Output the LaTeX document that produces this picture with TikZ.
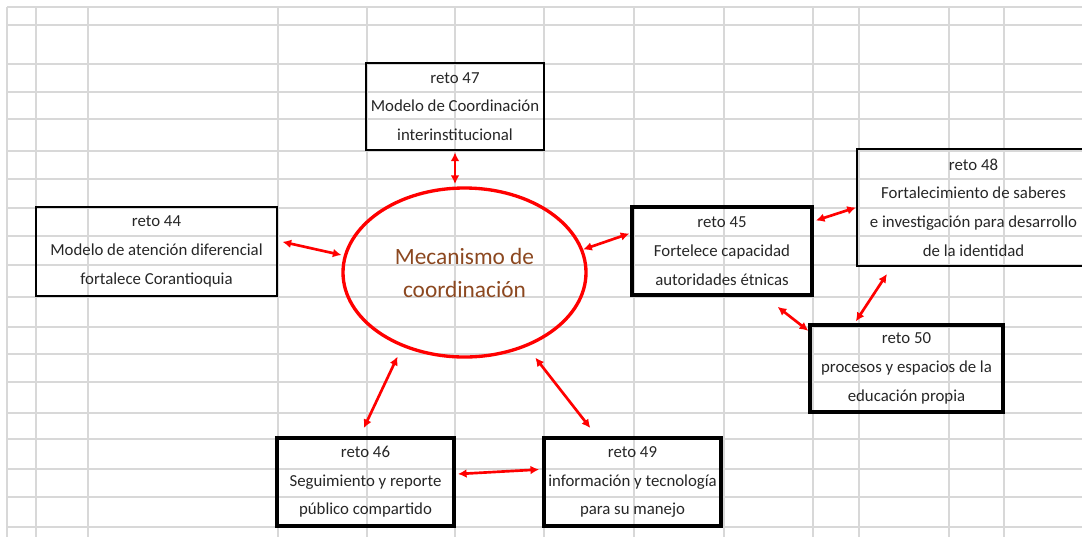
\documentclass[tikz,border=0pt]{standalone}
\usepackage{fontspec}
\setmainfont{Carlito}
\usetikzlibrary{shapes.geometric,arrows.meta}

\definecolor{gridgray}{RGB}{216,216,216}
\definecolor{mecbrown}{RGB}{140,72,32}

\tikzset{every picture/.style={line width=0.75pt}}
\tikzset{
  reto/.style={draw=black, line width=1.6pt, inner sep=2pt, align=center, text=black!85, font=\fontsize{12.6}{21.5}\selectfont},
  retothick/.style={reto, line width=2.5pt},
  link/.style={draw=red, line width=2pt, {Latex[length=6.5pt,width=6.5pt]}-{Latex[length=6.5pt,width=6.5pt]}},
}

\begin{document}
\begin{tikzpicture}[x=0.75pt,y=0.75pt,yscale=-1,xscale=1]
    \useasboundingbox (0,0) rectangle (1082,537);

    %Shape: Grid (sheet cells)
    \draw [color=gridgray, line width=1.2pt] (7,7) -- (7,537) (36,7) -- (36,537) (88,7) -- (88,537) (278,7) -- (278,537) (367,7) -- (367,537) (455,7) -- (455,537) (544,7) -- (544,537) (634,7) -- (634,537) (724,7) -- (724,537) (813,7) -- (813,537) (859,7) -- (859,537) (949,7) -- (949,537) (1004,7) -- (1004,537)
    (7,7) -- (1082,7) (7,25) -- (1082,25) (7,64) -- (1082,64) (7,92) -- (1082,92) (7,119) -- (1082,119) (7,151) -- (1082,151) (7,179) -- (1082,179) (7,208) -- (1082,208) (7,236) -- (1082,236) (7,265) -- (1082,265) (7,297) -- (1082,297) (7,327) -- (1082,327) (7,354) -- (1082,354) (7,382) -- (1082,382) (7,413) -- (1082,413) (7,439) -- (1082,439) (7,469) -- (1082,469) (7,497) -- (1082,497) (7,527) -- (1082,527) ;

    %Shape: Ellipse
    \draw (464.5,272.5) node (mec) [ellipse, draw=red, line width=2.5pt, minimum width=182.25pt, minimum height=126.75pt, inner sep=0pt, align=center, text=mecbrown, font=\fontsize{17.5}{24.75}\selectfont] {Mecanismo de\\coordinación};

    % Text Node
    \draw (455,106.5) node (r47) [reto, minimum width=133.5pt, minimum height=65.25pt] {reto 47\\Modelo de Coordinación\\interinstitucional};
    % Text Node
    \draw (156.5,251.5) node (r44) [reto, minimum width=180.75pt, minimum height=66.75pt] {reto 44\\Modelo de atención diferencial\\fortalece Corantioquia};
    % Text Node
    \draw (722,251) node (r45) [retothick, minimum width=135pt, minimum height=66pt] {reto 45\\Fortelece capacidad\\autoridades étnicas};
    % Text Node
    \draw (973.5,207.5) node (r48) [reto, minimum width=174.75pt, minimum height=87.75pt] {reto 48\\Fortalecimiento de saberes\\e investigación para desarrollo\\de la identidad};
    % Text Node
    \draw (906.5,368.5) node (r50) [retothick, minimum width=144.75pt, minimum height=65.25pt] {reto 50\\procesos y espacios de la\\educación propia};
    % Text Node
    \draw (365.5,482) node (r46) [retothick, minimum width=132.75pt, minimum height=66pt] {reto 46\\Seguimiento y reporte\\público compartido};
    % Text Node
    \draw (632.5,482) node (r49) [retothick, minimum width=132.75pt, minimum height=66pt] {reto 49\\información y tecnología\\para su manejo};

    %Straight Lines (double arrows)
    \draw [link, shorten <=1pt, shorten >=1.7pt] (r47.south) -- (r47.south |- mec.north);
    \draw [link, shorten <=3.4pt, shorten >=1.7pt] (r44.5) -- (mec.172);
    \draw [link, shorten >=0.75pt] (mec.11) -- (r45.169);
    \draw [link, shorten <=1.7pt] (r45.18) -- (r48.west);
    \draw [link, shorten <=6.2pt, shorten >=1.8pt] (r48.216) -- (r50.139);
    \draw [link, shorten <=12.4pt] (r45.313) -- (r50.159);
    \draw [link, shorten <=8.1pt, shorten >=6.8pt] (mec.230) -- (r46.97);
    \draw [link, shorten <=10.3pt, shorten >=7.9pt] (mec.310) -- (r49.128);
    \draw [link, shorten <=1.7pt, shorten >=2.4pt] (r46.5) -- (r49.172);

\end{tikzpicture}
\end{document}
